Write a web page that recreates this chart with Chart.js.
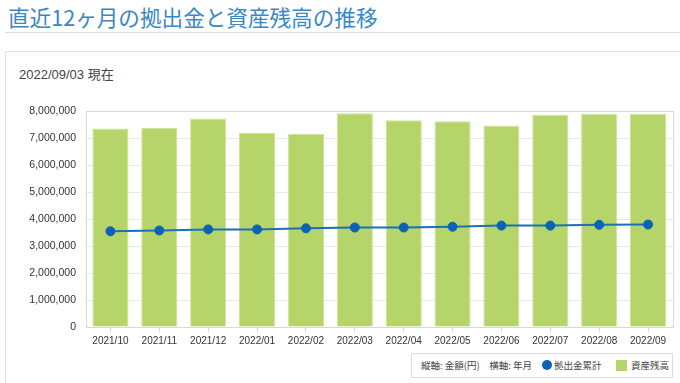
<!DOCTYPE html>
<html>
<head>
<meta charset="utf-8">
<script src="https://cdn.jsdelivr.net/npm/chart.js@4/dist/chart.umd.min.js"></script>
<style>
  body{margin:0;width:680px;height:383px;background:#fff;position:relative;overflow:hidden;font-family:"Liberation Sans","Noto Sans CJK JP",sans-serif;}
  #title{position:absolute;left:8px;top:1px;font-family:"Noto Sans CJK JP",sans-serif;font-size:21.6px;color:#3a88c3;white-space:nowrap;}
  #rule{position:absolute;left:5px;right:0;top:32px;height:0;border-top:1px solid #ddd;}
  #panel{position:absolute;left:5px;top:51px;width:700px;height:400px;border:1px solid #e2e2e2;}
  #date{position:absolute;left:19px;top:64px;font-size:13px;color:#444;}
  #wrap{position:absolute;left:6px;top:95px;width:672px;height:255px;}
  #legend{position:absolute;left:411px;top:353px;width:262px;height:25px;border:1px solid #ddd;font-size:9.5px;color:#444;font-family:"Noto Sans CJK JP",sans-serif;box-sizing:border-box;white-space:nowrap;}
  #legend span{position:absolute;top:5px;line-height:13px;}
  .dot{width:10px;height:10px;border-radius:50%;background:#0b63b5;top:6px !important;}
  .sq{width:11px;height:11px;background:#b5d56a;top:6px !important;}
</style>
</head>
<body>
<div id="title">直近12ヶ月の拠出金と資産残高の推移</div>
<div id="rule"></div>
<div id="panel"></div>
<div id="date">2022/09/03 現在</div>
<div id="wrap"><canvas id="chart"></canvas></div>
<div id="legend"><span style="left:9px">縦軸: 金額(円)　横軸: 年月</span><span class="dot" style="left:130px"></span><span style="left:142px">拠出金累計</span><span class="sq" style="left:204px"></span><span style="left:219px">資産残高</span></div>
<script>
var months = ["2021/10","2021/11","2021/12","2022/01","2022/02","2022/03","2022/04","2022/05","2022/06","2022/07","2022/08","2022/09"];
var assetBalance = [7360000,7390000,7730000,7200000,7160000,7930000,7670000,7630000,7470000,7860000,7900000,7900000]; // 資産残高
var contribTotal = [3550000,3580000,3620000,3620000,3660000,3690000,3690000,3720000,3760000,3760000,3790000,3800000]; // 拠出金累計
var yMax = 8000000;
var yStep = 1000000;

var plotBorder = { // グラフ領域の枠線
  id: "plotBorder",
  afterDraw: function(chart){
    var a = chart.chartArea, ctx = chart.ctx;
    ctx.save();
    ctx.strokeStyle = "#d8d8d8";
    ctx.lineWidth = 1;
    ctx.strokeRect(Math.round(a.left)+0.5, Math.round(a.top)+0.5, Math.round(a.right-a.left), Math.round(a.bottom-a.top));
    ctx.restore();
  }
};

var chart = new Chart(document.getElementById("chart"), {
  type: "bar",
  data: {
    labels: months,
    datasets: [
      {
        type: "line",
        label: "拠出金累計",
        data: contribTotal,
        borderColor: "#1b6fb8",
        borderWidth: 2,
        backgroundColor: "#0b63b5",
        pointBackgroundColor: "#0b63b5",
        pointBorderColor: "#0b63b5",
        pointBorderWidth: 1,
        pointRadius: 4.5,
        tension: 0,
        order: 1
      },
      {
        label: "資産残高",
        data: assetBalance,
        backgroundColor: "#b5d56a",
        borderColor: "#cfe49b",
        borderWidth: 1,
        categoryPercentage: 1,
        barPercentage: 0.74,
        order: 2
      }
    ]
  },
  options: {
    responsive: true,
    maintainAspectRatio: false,
    animation: false,
    layout: { padding: { top: 8, right: 3, left: 0, bottom: 0 } },
    plugins: { legend: { display: false }, tooltip: { enabled: false } },
    scales: {
      x: {
        grid: { offset: false, drawOnChartArea: false, drawTicks: true, tickLength: 5, color: "#d8d8d8" },
        border: { display: false },
        ticks: { color: "#333", font: { family: "Liberation Sans", size: 10 }, maxRotation: 0, autoSkip: false, padding: 3 }
      },
      y: {
        min: 0,
        max: yMax,
        afterFit: function(s){ s.width = 80; },
        grid: { color: "#e8e8e8", drawTicks: false },
        border: { display: false },
        ticks: {
          stepSize: yStep,
          color: "#333",
          padding: 10,
          font: { family: "Liberation Sans", size: 10.5 },
          callback: function(v){ return v.toLocaleString("en-US"); }
        }
      }
    }
  },
  plugins: [plotBorder]
});
</script>
</body>
</html>
